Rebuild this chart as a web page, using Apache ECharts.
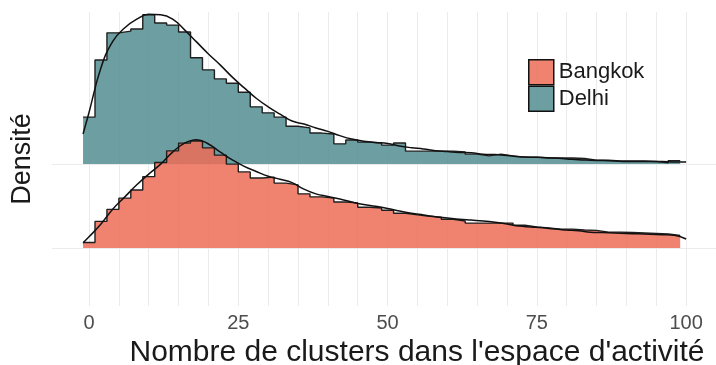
<!DOCTYPE html>
<html>
<head>
<meta charset="utf-8">
<script src="https://cdn.jsdelivr.net/npm/echarts@6/dist/echarts.min.js"></script>
<style>
html,body{margin:0;padding:0;background:#ffffff;}
#chart{width:716px;height:365px;}
</style>
</head>
<body>
<div id="chart"></div>
<script>
// ---- data (densities in % per cluster) ----
const cities = ['Bangkok', 'Delhi'];
const binCenters = [0,2,4,6,8,10,12,14,16,18,20,22,24,26,28,30,32,34,36,38,40,42,44,46,48,50,52,54,56,58,60,62,64,66,68,70,72,74,76,78,80,82,84,86,88,90,92,94,96,98];
const binWidth = 2;
const delhiHist = [1.09,2.42,3.05,3.09,3.14,3.47,3.28,3.23,3.07,2.47,2.19,1.98,1.88,1.67,1.33,1.19,1.09,0.88,0.84,0.72,0.70,0.47,0.56,0.51,0.49,0.44,0.49,0.30,0.30,0.30,0.30,0.28,0.23,0.19,0.23,0.19,0.16,0.16,0.14,0.14,0.14,0.13,0.09,0.09,0.07,0.07,0.07,0.06,0.03,0.08];
const bangkokHist = [0.13,0.62,0.90,1.16,1.35,1.66,1.99,2.26,2.44,2.49,2.33,2.16,1.95,1.77,1.63,1.65,1.51,1.47,1.26,1.19,1.16,1.07,1.05,0.95,0.93,0.88,0.81,0.77,0.74,0.72,0.67,0.63,0.58,0.58,0.58,0.58,0.53,0.49,0.47,0.44,0.44,0.42,0.41,0.37,0.37,0.36,0.35,0.34,0.33,0.29];
const densityX = [-1,0,2,4,6,8,10,12,14,16,18,20,22,24,26,28,30,32,34,36,38,40,42,44,46,48,50,52,54,56,58,60,62,64,66,68,70,72,74,76,78,80,82,84,86,88,90,92,94,96,98,100];
const delhiDensity = [0.70,1.20,2.24,2.86,3.17,3.37,3.48,3.47,3.37,3.12,2.84,2.56,2.30,2.02,1.77,1.53,1.33,1.16,1.00,0.93,0.84,0.76,0.66,0.58,0.53,0.50,0.48,0.42,0.38,0.35,0.31,0.29,0.27,0.26,0.23,0.22,0.20,0.17,0.16,0.15,0.14,0.12,0.10,0.09,0.08,0.07,0.06,0.06,0.06,0.06,0.05,0.05];
const bangkokDensity = [0.12,0.26,0.56,0.91,1.19,1.47,1.72,1.95,2.23,2.44,2.52,2.42,2.23,2.05,1.90,1.78,1.67,1.60,1.52,1.37,1.26,1.20,1.14,1.07,1.01,0.97,0.92,0.86,0.81,0.77,0.73,0.70,0.67,0.65,0.63,0.60,0.56,0.51,0.49,0.47,0.44,0.42,0.40,0.37,0.36,0.35,0.34,0.33,0.32,0.31,0.30,0.21];
const xTicks = [0,25,50,75,100];
const xGridLines = [0,5,10,15,20,25,30,35,40,45,50,55,60,65,70,75,80,85,90,95,100];
const ridgeBase = { Bangkok: 1, Delhi: 2 };   // ridge positions on the y axis
const ridgeScale = 0.512;                      // ridge units per % of density

// ---- styles ----
const FONT = 'Liberation Sans, Arial, sans-serif';
const fills = { Bangkok: 'rgba(237,108,87,0.85)', Delhi: 'rgba(83,141,146,0.85)' };

function histPoints(city, values) {
  const pts = [];
  binCenters.forEach((c, i) => {
    const y = ridgeBase[city] + values[i] * ridgeScale;
    pts.push([c - binWidth / 2, y]);
    pts.push([c + binWidth / 2, y]);
  });
  return pts;
}
function densityPoints(city, values) {
  return densityX.map((x, i) => [x, ridgeBase[city] + values[i] * ridgeScale]);
}

function histSeries(city, values, z, withGrid) {
  const s = {
    name: city,
    type: 'line',
    data: histPoints(city, values),
    showSymbol: false,
    symbol: 'none',
    z: z,
    lineStyle: { color: '#1f1f1f', width: 1.4 },
    itemStyle: { color: fills[city] },
    areaStyle: { color: fills[city], opacity: 1, origin: ridgeBase[city] },
    silent: true
  };
  if (withGrid) {
    s.markLine = {
      silent: true, symbol: 'none', z: 1,
      label: { show: false },
      lineStyle: { color: '#ebebeb', width: 1, type: 'solid' },
      emphasis: { disabled: true },
      data: xGridLines.map(v => ({ xAxis: v })).concat(cities.map(c => ({ yAxis: ridgeBase[c] })))
    };
  }
  return s;
}
function densitySeries(city, values, z) {
  return {
    name: city + ' (densité)',
    type: 'line',
    data: densityPoints(city, values),
    smooth: 0.45,
    showSymbol: false,
    symbol: 'none',
    z: z,
    lineStyle: { color: '#111111', width: 1.5 },
    silent: true
  };
}

const chart = echarts.init(document.getElementById('chart'), null, { renderer: 'canvas' });
chart.setOption({
  animation: false,
  backgroundColor: '#ffffff',
  textStyle: { fontFamily: FONT },
  grid: { left: 52, right: 0, top: 12, bottom: 59, containLabel: false, outerBoundsMode: 'none' },
  legend: {
    orient: 'vertical',
    left: 528, top: 59, padding: 0,
    itemWidth: 25, itemHeight: 25, itemGap: 0,
    selectedMode: false,
    textStyle: { fontSize: 22, color: '#1a1a1a', fontFamily: FONT },
    data: cities.map(c => ({
      name: c, icon: 'rect',
      itemStyle: { color: fills[c], borderColor: '#111111', borderWidth: 1.5 }
    }))
  },
  xAxis: {
    type: 'value', min: -6.2, max: 105,
    axisLine: { show: false }, axisTick: { show: false }, splitLine: { show: false },
    axisLabel: { customValues: xTicks, color: '#4d4d4d', fontSize: 20, margin: 7, fontFamily: FONT },
    name: "Nombre de clusters dans l'espace d'activité",
    nameLocation: 'middle', nameGap: 32,
    nameTextStyle: { fontSize: 30, color: '#1a1a1a', fontFamily: FONT, padding: [0, 0, 0, 66] }
  },
  yAxis: {
    type: 'value', min: 0.31, max: 3.81,
    axisLine: { show: false }, axisTick: { show: false }, axisLabel: { show: false }, splitLine: { show: false },
    name: 'Densité', nameLocation: 'middle', nameGap: 16, nameRotate: 90,
    nameTextStyle: { fontSize: 27, color: '#1a1a1a', fontFamily: FONT }
  },
  series: [
    histSeries('Delhi', delhiHist, 2, true),
    densitySeries('Delhi', delhiDensity, 3),
    histSeries('Bangkok', bangkokHist, 4, false),
    densitySeries('Bangkok', bangkokDensity, 5)
  ]
});
</script>
</body>
</html>
